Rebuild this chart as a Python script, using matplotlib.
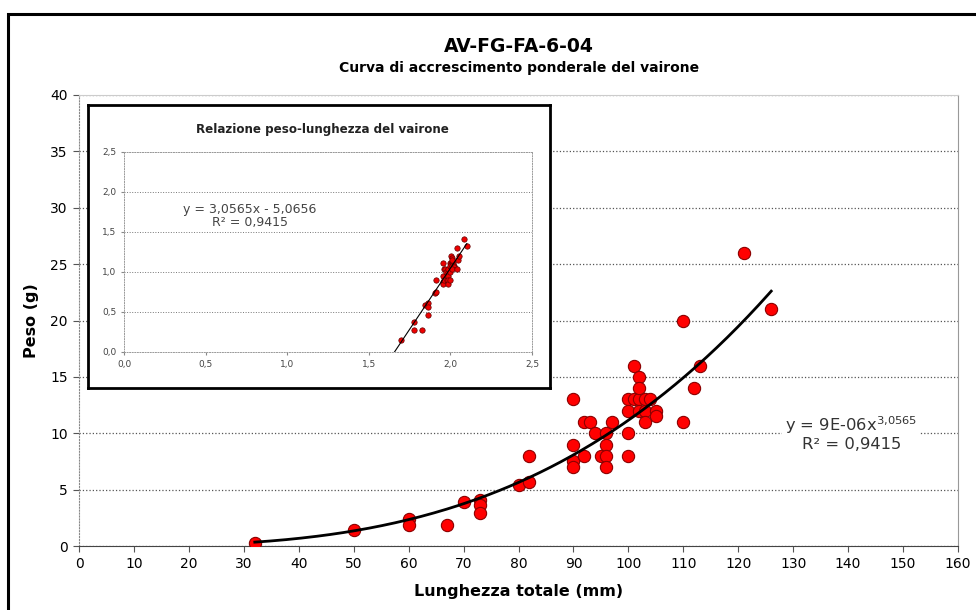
import matplotlib.pyplot as plt
import numpy as np
from matplotlib.patches import Rectangle

# total length (mm) and weight (g) of each fish
lunghezza = [32, 50, 60, 60, 67, 70, 73, 73, 73, 80, 82, 82,
             90, 90, 90, 90, 92, 93, 92, 94, 95, 96, 96, 96, 96, 97,
             100, 100, 100, 101, 102, 103, 104, 100, 102, 103, 105, 105, 103,
             101, 102, 102, 110, 110, 112, 113, 121, 126]
peso = [0.3, 1.4, 2.4, 1.9, 1.9, 3.9, 4.1, 3.6, 2.9, 5.4, 8, 5.7,
        13, 9, 7.5, 7, 11, 11, 8, 10, 8, 10, 9, 8, 7, 11,
        10, 8, 13, 13, 13, 13, 13, 12, 12, 12, 12, 11.5, 11,
        16, 15, 14, 20, 11, 14, 16, 26, 21]

# regression on log10 values (from the chart)
slope = 3.0565
intercept = -5.0656
eq_main = 'y = 9E-06x$^{3{,}0565}$\nR² = 0,9415'
eq_log = 'y = 3,0565x - 5,0656\nR² = 0,9415'

L = np.array(lunghezza, dtype=float)
W = np.array(peso, dtype=float)

plt.rcParams['font.family'] = ['DejaVu Sans']
plt.rcParams['mathtext.default'] = 'regular'

fig = plt.figure(figsize=(9.76, 6.10), dpi=100)

# outer frame of the chart
fig.patches.append(Rectangle((8 / 976, -0.1), 1.2, 1 - 14 / 610 + 0.1,
                             transform=fig.transFigure, fill=False,
                             edgecolor='black', linewidth=2.2))

ax = fig.add_axes([79 / 976, 1 - 546 / 610, 879 / 976, 451 / 610])
ax.scatter(L, W, s=78, color='#ff0000', edgecolor='#8b0000', linewidth=0.8, zorder=3)
xs = np.linspace(L.min(), L.max(), 200)
ax.plot(xs, 10 ** intercept * xs ** slope, color='black', linewidth=2, zorder=4)

ax.set_xlim(0, 160)
ax.set_ylim(0, 40)
ax.set_xticks(range(0, 161, 10))
ax.set_yticks(range(0, 41, 5))
ax.tick_params(labelsize=10, direction='out', length=4, color='#555555', pad=4)
ax.yaxis.grid(True, linestyle=':', color='#555555', linewidth=0.9)
ax.set_axisbelow(True)
ax.spines['top'].set_color('#cccccc')
ax.spines['right'].set_color('#999999')
ax.spines['left'].set_color('#888888')
ax.spines['left'].set_linestyle(':')
ax.spines['bottom'].set_color('#444444')
ax.set_xlabel('Lunghezza totale (mm)', fontsize=11.5, fontweight='bold', labelpad=9)
ax.set_ylabel('Peso (g)', fontsize=11.5, fontweight='bold', labelpad=8)

ax.text(140.6, 10.0, eq_main, ha='center', va='center', fontsize=11.8, color='#333333',
        linespacing=1.05, bbox=dict(facecolor='white', edgecolor='none', pad=2), zorder=5)

fig.text(519 / 976, 1 - 46 / 610, 'AV-FG-FA-6-04', ha='center', va='center',
         fontsize=13.5, fontweight='bold')
fig.text(519 / 976, 1 - 68 / 610, 'Curva di accrescimento ponderale del vairone',
         ha='center', va='center', fontsize=10, fontweight='bold')

# inset box
box = fig.add_axes([88 / 976, 1 - 388 / 610, 462 / 976, 283 / 610])
box.set_xticks([])
box.set_yticks([])
for s in box.spines.values():
    s.set_linewidth(2)
box.text(0.508, 0.915, 'Relazione peso-lunghezza del vairone', transform=box.transAxes,
         ha='center', va='center', fontsize=8.6, fontweight='bold', color='#222222')

ins = fig.add_axes([124 / 976, 1 - 352 / 610, 408 / 976, 200 / 610])
ins.scatter(np.log10(L), np.log10(W), s=15, color='#ee0000', edgecolor='#600000',
            linewidth=0.5, zorder=3)
lx = np.array([-intercept / slope, np.log10(L.max())])
ins.plot(lx, slope * lx + intercept, color='black', linewidth=0.8, zorder=4)
ins.set_xlim(0, 2.5)
ins.set_ylim(0, 2.5)
ticks = [0, 0.5, 1.0, 1.5, 2.0, 2.5]
ins.set_xticks(ticks)
ins.set_yticks(ticks)
labels = [f'{t:.1f}'.replace('.', ',') for t in ticks]
ins.set_xticklabels(labels)
ins.set_yticklabels(labels)
ins.tick_params(labelsize=6.5, labelcolor='#444444', length=2, color='#888888')
ins.yaxis.grid(True, linestyle=':', color='#777777', linewidth=0.7)
ins.set_axisbelow(True)
for s in ins.spines.values():
    s.set_color('#999999')
    s.set_linestyle(':')
    s.set_linewidth(0.7)
ins.text(0.77, 1.7, eq_log, ha='center', va='center', fontsize=9, color='#444444',
         linespacing=0.95)

fig.savefig('out.png', dpi=100)
